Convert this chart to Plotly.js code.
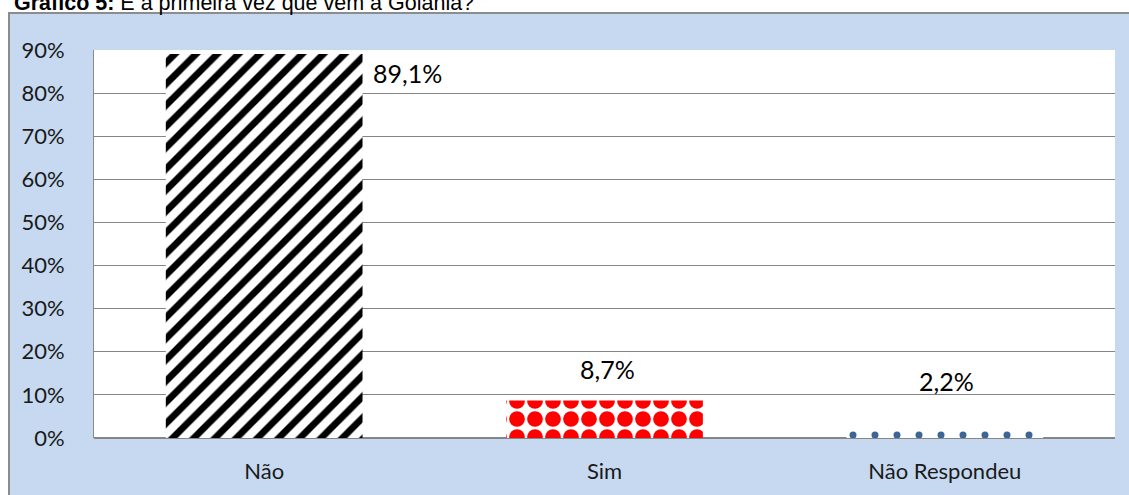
<!DOCTYPE html>
<html>
<head>
<meta charset="utf-8">
<script src="https://cdn.plot.ly/plotly-3.0.1.min.js"></script>
<style>
  html, body { margin: 0; padding: 0; background: #ffffff; overflow: hidden; }
  #box { position: absolute; left: 8px; top: 12px; width: 1200px; height: 600px;
         background: #C6D9F0; border: 2px solid #8c8c8c; box-sizing: border-box; }
  #chart { position: absolute; left: 0; top: 0; width: 1129px; height: 495px; }
</style>
</head>
<body>
<div id="box"></div>
<div id="chart"></div>
<script>
// ---- data ----
const categories = ["Não", "Sim", "Não Respondeu"];
const values = [0.891, 0.087, 0.022];
const valueLabels = ["89,1%", "8,7%", "2,2%"];
const chartTitle = "<b>Gráfico 5:</b> É a primeira vez que vem a Goiânia?";

// ---- styles ----
const patternShapes = ["/", ".", "."];
const patternFg = ["#000000", "#ff0000", "#3c6494"];
const patternBg = ["#ffffff", "#ffffff", "#ffffff"];
const patternSize = [15, 18, 22];
const patternSolidity = [0.45, 0.6, 0.08];
const labelXShift = [107, 3, 2];
const labelYShift = [-19, 32, 48];
const labelAnchor = ["left", "center", "center"];

const traces = categories.map((c, i) => ({
  type: "bar",
  x: [c],
  y: [values[i]],
  width: 0.578,
  marker: {
    color: patternBg[i],
    line: { width: 0 },
    pattern: {
      shape: patternShapes[i],
      fgcolor: patternFg[i],
      fgopacity: 1,
      size: patternSize[i],
      solidity: patternSolidity[i],
      fillmode: "overlay"
    }
  },
  hoverinfo: "none"
}));

const annotations = categories.map((c, i) => ({
  x: c, y: values[i], xref: "x", yref: "y",
  text: valueLabels[i], showarrow: false,
  xanchor: labelAnchor[i], yanchor: "middle",
  xshift: labelXShift[i], yshift: labelYShift[i],
  font: { family: "Lato, sans-serif", size: 25, color: "#000000" }
}));

const layout = {
  width: 1129, height: 495,
  margin: { l: 94, r: 14, t: 50, b: 57, pad: 0 },
  paper_bgcolor: "rgba(0,0,0,0)",
  plot_bgcolor: "#ffffff",
  showlegend: false,
  barmode: "overlay",
  title: {
    text: chartTitle,
    xref: "container", yref: "container",
    x: 14 / 1129, xanchor: "left",
    y: 0.996, yanchor: "middle",
    font: { family: "Liberation Sans, Arial, sans-serif", size: 21.5, color: "#000000" }
  },
  xaxis: {
    type: "category",
    categoryarray: categories,
    showgrid: false,
    showline: false,
    zeroline: false,
    ticks: "outside", ticklen: 14, tickcolor: "rgba(0,0,0,0)",
    tickfont: { family: "Lato, sans-serif", size: 22, color: "#1a1a1a" },
    fixedrange: true
  },
  yaxis: {
    range: [0, 0.9001],
    dtick: 0.1, tick0: 0,
    tickformat: ".0%",
    showgrid: true, gridcolor: "#858585", gridwidth: 1,
    showline: true, linecolor: "#8a8a8a", linewidth: 1,
    zeroline: true, zerolinecolor: "#868686", zerolinewidth: 2,
    ticks: "outside", ticklen: 24, tickcolor: "rgba(0,0,0,0)",
    tickfont: { family: "Lato, sans-serif", size: 22, color: "#1a1a1a" },
    fixedrange: true
  },
  annotations: annotations
};

Plotly.newPlot("chart", traces, layout, { displayModeBar: false, staticPlot: true });
</script>
</body>
</html>
